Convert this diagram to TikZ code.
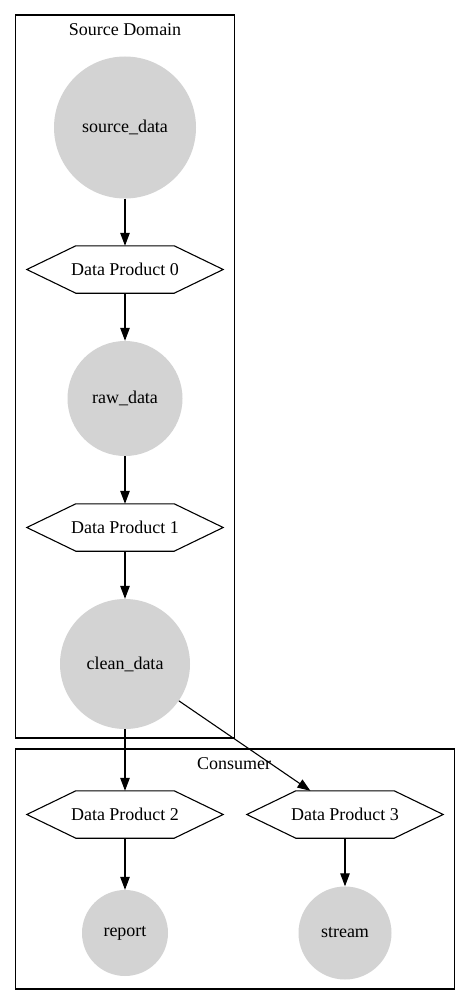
\documentclass[tikz,border=0pt]{standalone}
\usepackage{fontspec}
\setmainfont{Liberation Serif}
\usetikzlibrary{arrows.meta}
\definecolor{nodegray}{HTML}{D3D3D3}
\newcommand\hxt[1]{\makebox[0pt]{#1}}
\begin{document}
\begin{tikzpicture}[x=1pt,y=-1pt,
  every node/.style={font=\fontsize{18}{22}\selectfont},
  circ/.style={circle, fill=nodegray, draw=none, inner sep=0pt, minimum size=#1},
  hexa/.style={rectangle, draw=none, minimum width=98pt, minimum height=47pt, inner sep=0pt},
  hexline/.style={line width=1.1pt, line join=miter},
  arr/.style={line width=1.1pt, -{Triangle[length=13pt,width=9.5pt]}},
  cluster/.style={draw, line width=1.1pt},
  lbl/.style={inner sep=0pt}
]
\useasboundingbox (0,0) rectangle (471,1006);

% clusters
\draw[cluster] (15.5,15) rectangle (234.5,738);
\node[lbl] (srclbl) at (125,30) {Source Domain};
\draw[cluster] (15.5,749) rectangle (454.5,989);

% nodes
\node[circ=142pt] (src) at (125,127.5) {source\_data};
\node[hexa] (dp0) at (125,269.5) {\hxt{Data Product 0}};
\node[circ=115pt] (raw) at (125,398.5) {raw\_data};
\node[hexa] (dp1) at (125,527.5) {\hxt{Data Product 1}};
\node[circ=130pt] (clean) at (125,664) {clean\_data};
\node[hexa] (dp2) at (125,814.5) {\hxt{Data Product 2}};
\node[hexa] (dp3) at (345,814.5) {\hxt{Data Product 3}};
\node[circ=86pt] (report) at (125,933) {report};
\node[circ=93pt] (stream) at (345,933) {stream};

% hexagon outlines
\foreach \h in {dp0,dp1,dp2,dp3}{
  \draw[hexline] (\h.north west) -- (\h.north east) -- ([xshift=49pt]\h.east)
    -- (\h.south east) -- (\h.south west) -- ([xshift=-49pt]\h.west) -- cycle;
}

% edges
\draw[arr] (src) -- (dp0);
\draw[arr] (dp0) -- (raw);
\draw[arr] (raw) -- (dp1);
\draw[arr] (dp1) -- (clean);
\draw[arr] (clean) -- (dp2);
\draw[arr] (clean) -- (dp3);
\draw[arr] (dp2) -- (report);
\draw[arr] (dp3) -- (stream);

\node[lbl] (conlbl) at (234,764) {Consumer};
\end{tikzpicture}
\end{document}
